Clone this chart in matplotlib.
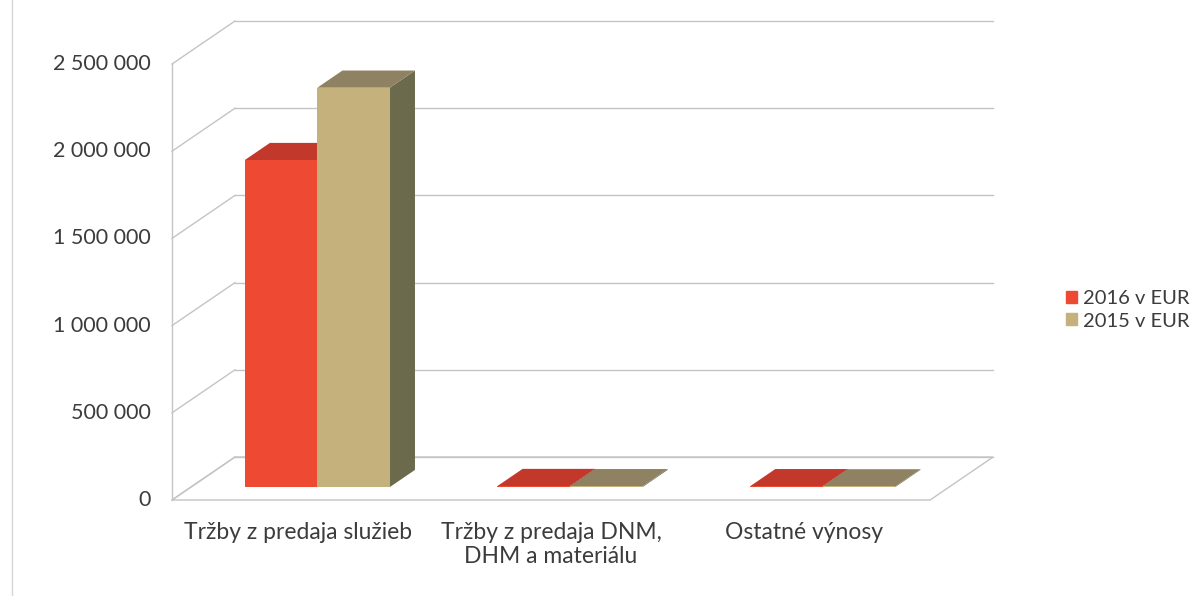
import matplotlib.pyplot as plt
from matplotlib.patches import Polygon, Patch

# data
categories = ["Tržby z predaja služieb", "Tržby z predaja DNM,\nDHM a materiálu", "Ostatné výnosy"]
series_names = ["2016 v EUR", "2015 v EUR"]
vals_2016 = [1875000, 6000, 5000]
vals_2015 = [2290000, 5000, 4000]
yticks = [0, 500000, 1000000, 1500000, 2000000, 2500000]

plt.rcParams['font.family'] = ['Lato', 'DejaVu Sans']
TXT = '#3c3c3c'
GRID = '#c4c4c4'

# layout of the fake 3d box (pixels -> data units)
PX_CAT = 252.7          # px per category
PX_VAL = 436 / 2.5e6    # px per value unit
X0, Y0 = 172, 500       # front-left floor corner in px
DX = 63 / PX_CAT        # depth shift, category units
DY = 43 / PX_VAL        # depth shift, value units


def proj(u, v, t):
    return (u + t * DX, v + t * DY)


fig = plt.figure(figsize=(12, 5.96), dpi=100)
ax = fig.add_axes([0, 0, 1, 1])
ax.set_xlim(-X0 / PX_CAT, (1200 - X0) / PX_CAT)
ax.set_ylim(-(596 - Y0) / PX_VAL, Y0 / PX_VAL)
ax.axis('off')

n = len(categories)
top = yticks[-1]

# chart area border on the left
ax.axvline((12 - X0) / PX_CAT, color='#d6d6d6', lw=1)

# back wall + left wall gridlines
for v in yticks:
    a, b = proj(0, v, 1), proj(n, v, 1)
    ax.plot([a[0], b[0]], [a[1], b[1]], color=GRID, lw=1, zorder=1)
    c = proj(0, v, 0)
    ax.plot([c[0], a[0]], [c[1], a[1]], color=GRID, lw=1, zorder=1)
    ax.annotate(f"{v:,}".replace(',', ' '), xy=proj(0, v, 0), xytext=(-21, 0),
                textcoords='offset pixels', ha='right', va='center',
                fontsize=15.5, color=TXT)

# left wall front edge and floor outline
p, q = proj(0, 0, 0), proj(0, top, 0)
ax.plot([p[0], q[0]], [p[1], q[1]], color=GRID, lw=1, zorder=1)
fl = [proj(0, 0, 0), proj(n, 0, 0), proj(n, 0, 1), proj(0, 0, 1)]
ax.add_patch(Polygon(fl, closed=True, fill=False, ec=GRID, lw=1, zorder=1))

# bars
bw = 0.287
t0, t1 = 0.3, 0.7
faces = [
    ('#ee4a33', '#c2392b', '#a83226'),   # 2016
    ('#c5b17c', '#8e8262', '#6c6a4c'),   # 2015
]
for i in range(n):
    for j, vals in enumerate([vals_2016, vals_2015]):
        val = vals[i]
        u0 = i + 0.5 - bw + j * bw
        u1 = u0 + bw
        front_c, top_c, side_c = faces[j]
        front = [proj(u0, 0, t0), proj(u1, 0, t0), proj(u1, val, t0), proj(u0, val, t0)]
        topf = [proj(u0, val, t0), proj(u1, val, t0), proj(u1, val, t1), proj(u0, val, t1)]
        side = [proj(u1, 0, t0), proj(u1, val, t0), proj(u1, val, t1), proj(u1, 0, t1)]
        for poly, col in [(side, side_c), (topf, top_c), (front, front_c)]:
            ax.add_patch(Polygon(poly, closed=True, fc=col, ec='none', zorder=2 + i))

# category labels
for i, cat in enumerate(categories):
    ax.annotate(cat, xy=proj(i + 0.5, 0, 0), xytext=(0, -22), textcoords='offset pixels',
                ha='center', va='top', fontsize=16.5, color=TXT, linespacing=1.15)

handles = [Patch(color=faces[0][0]), Patch(color=faces[1][0])]
fig.legend(handles, series_names, loc='center left', bbox_to_anchor=(1048 / 1200, 1 - 310 / 596),
           frameon=False, fontsize=14.5, labelcolor=TXT, handlelength=0.55, handleheight=0.55,
           handletextpad=0.3, labelspacing=0.25)

fig.savefig('out.png', dpi=100)
